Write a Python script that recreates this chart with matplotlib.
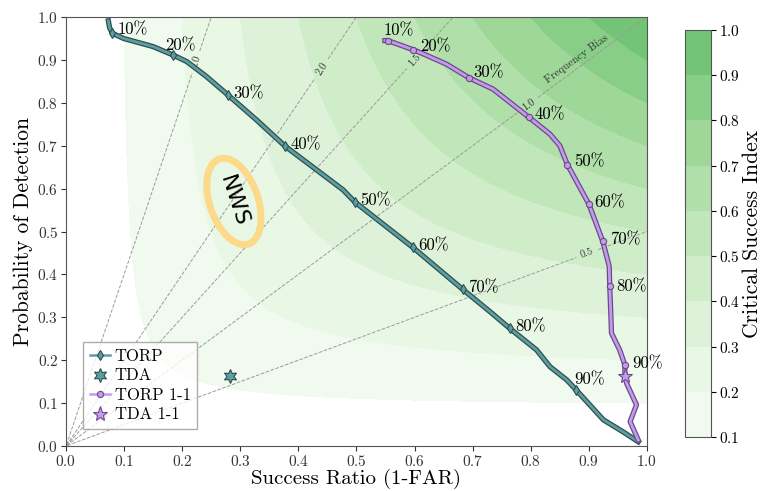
import numpy as np
import matplotlib
matplotlib.use("Agg")
import matplotlib.pyplot as plt
import matplotlib.patheffects as pe
from matplotlib.patches import Ellipse
from matplotlib.colors import ListedColormap, BoundaryNorm

plt.rcParams["font.family"] = "serif"
plt.rcParams["font.serif"] = ["cmr10"]
plt.rcParams["mathtext.fontset"] = "cm"
plt.rcParams["axes.formatter.use_mathtext"] = True
plt.rcParams["axes.unicode_minus"] = False

# --- data ---
torp_sr = [0.073, 0.075, 0.080, 0.099, 0.150, 0.185, 0.208, 0.242, 0.279, 0.328,
           0.377, 0.432, 0.477, 0.497, 0.597, 0.683, 0.730, 0.764, 0.810, 0.833,
           0.862, 0.878, 0.925, 0.959, 0.985]
torp_pod = [0.991, 0.975, 0.962, 0.950, 0.931, 0.911, 0.896, 0.861, 0.818, 0.760,
            0.699, 0.643, 0.597, 0.569, 0.463, 0.365, 0.313, 0.274, 0.224, 0.185,
            0.154, 0.131, 0.061, 0.033, 0.010]
torp_mark_sr = [0.080, 0.185, 0.279, 0.377, 0.497, 0.597, 0.683, 0.764, 0.878]
torp_mark_pod = [0.962, 0.911, 0.818, 0.699, 0.569, 0.463, 0.365, 0.274, 0.131]

torp11_sr = [0.549, 0.554, 0.597, 0.615, 0.655, 0.694, 0.735, 0.797, 0.833, 0.850,
             0.863, 0.900, 0.924, 0.935, 0.936, 0.939, 0.953, 0.962, 0.962, 0.965,
             0.982, 0.971, 0.985]
torp11_pod = [0.945, 0.945, 0.924, 0.914, 0.890, 0.858, 0.832, 0.766, 0.727, 0.700,
              0.656, 0.564, 0.477, 0.419, 0.372, 0.263, 0.224, 0.189, 0.163, 0.146,
              0.096, 0.057, 0.014]
torp11_mark_sr = [0.554, 0.597, 0.694, 0.797, 0.863, 0.900, 0.924, 0.936, 0.962]
torp11_mark_pod = [0.945, 0.924, 0.858, 0.766, 0.656, 0.564, 0.477, 0.372, 0.189]

pct_labels = ["10%", "20%", "30%", "40%", "50%", "60%", "70%", "80%", "90%"]

tda_sr, tda_pod = 0.282, 0.164
tda11_sr, tda11_pod = 0.962, 0.163

csi_levels = [0.1, 0.2, 0.3, 0.4, 0.5, 0.6, 0.7, 0.8, 0.9, 1.0]
bias_levels = [0.5, 1.0, 1.5, 2.0, 4.0]

# label offsets (points) for the percentage annotations
torp_off = [(4, 3), (-6, 7), (4, 1), (4, 1), (4, 1), (4, 1), (4, 1), (4, 1), (-1, 7)]
torp11_off = [(-3, 7), (5, 2), (3, 4), (4, 2), (5, 2), (4, 1), (5, 1), (5, 0), (5, 1)]

teal, teal_dark = "#5f9ea0", "#2c4f50"
purp, purp_dark = "#c39be8", "#6a4a8c"

fig = plt.figure(figsize=(7.69, 4.91), dpi=100)
ax = fig.add_axes([0.0858, 0.0916, 0.7555, 0.8738])
cax = fig.add_axes([0.8908, 0.110, 0.0338, 0.829])

# CSI background
sr = np.linspace(0.001, 1, 400)
pod = np.linspace(0.001, 1, 400)
SR, POD = np.meshgrid(sr, pod)
CSI = 1.0 / (1.0 / SR + 1.0 / POD - 1.0)
cmap = ListedColormap(plt.cm.Greens(np.linspace(0.04, 0.5, 9)))
norm = BoundaryNorm(csi_levels, cmap.N)
cf = ax.contourf(SR, POD, CSI, levels=csi_levels, cmap=cmap, norm=norm)

# frequency bias lines
BIAS = POD / SR
fb = ax.contour(SR, POD, BIAS, levels=bias_levels, colors="#9a9a9a",
                linestyles="dashed", linewidths=0.7)
ax.clabel(fb, fmt="%1.1f", fontsize=7.5, colors="#333333", inline=True,
          manual=[(0.897, 0.449), (0.797, 0.795), (0.60, 0.9), (0.44, 0.88), (0.224, 0.895)])
ax.text(0.879, 0.903, "Frequency Bias", fontsize=8, color="#333333",
        rotation=36, ha="center", va="center")

outline_t = [pe.Stroke(linewidth=3.8, foreground=teal_dark), pe.Normal()]
outline_p = [pe.Stroke(linewidth=3.8, foreground=purp_dark), pe.Normal()]

ax.plot(torp_sr, torp_pod, color=teal, lw=2.0, path_effects=outline_t, zorder=4)
ax.plot(torp_mark_sr, torp_mark_pod, ls="none", marker="d", ms=5.5, color=teal,
        mec=teal_dark, mew=0.8, zorder=5)
ax.plot([], [], color=teal, lw=1.8, marker="d", ms=5.5, mec=teal_dark, mew=0.8,
        label="TORP")
ax.plot(tda_sr, tda_pod, ls="none", marker=(6, 1, 0), ms=10, color=teal,
        mec=teal_dark, mew=0.8, zorder=6, label="TDA")

ax.plot(torp11_sr, torp11_pod, color=purp, lw=2.0, path_effects=outline_p, zorder=4)
ax.plot(torp11_mark_sr, torp11_mark_pod, ls="none", marker="o", ms=4.5, color=purp,
        mec=purp_dark, mew=0.8, zorder=5)
ax.plot([], [], color=purp, lw=1.8, marker="o", ms=4.5, mec=purp_dark, mew=0.8,
        label="TORP 1-1")
ax.plot(tda11_sr, tda11_pod, ls="none", marker="*", ms=11, color=purp,
        mec=purp_dark, mew=0.8, zorder=6, label="TDA 1-1")

for x, y, t, o in zip(torp_mark_sr, torp_mark_pod, pct_labels, torp_off):
    ax.annotate(t, (x, y), xytext=o, textcoords="offset points", fontsize=12,
                ha="left", va="center", zorder=7)
for x, y, t, o in zip(torp11_mark_sr, torp11_mark_pod, pct_labels, torp11_off):
    ax.annotate(t, (x, y), xytext=o, textcoords="offset points", fontsize=12,
                ha="left", va="center", zorder=7, annotation_clip=False)

# NWS callout
ax.add_patch(Ellipse((0.289, 0.57), width=0.085, height=0.205, angle=12,
                     fill=False, edgecolor="#fdd98a", lw=5, zorder=3))
ax.text(0.289, 0.57, "NWS", fontsize=16, family="DejaVu Sans", rotation=-72,
        ha="center", va="center", zorder=3)

ax.set_xlim(0, 1)
ax.set_ylim(0, 1)
ax.set_xticks(np.arange(0, 1.01, 0.1))
ax.set_yticks(np.arange(0, 1.01, 0.1))
ax.tick_params(labelsize=11, colors="#333333", direction="out", length=3.5, pad=2)
for s in ax.spines.values():
    s.set_color("#555555")
ax.set_xlabel("Success Ratio (1-FAR)", fontsize=15, labelpad=0)
ax.set_ylabel("Probability of Detection", fontsize=15.5, labelpad=3)

leg = ax.legend(loc="lower left", bbox_to_anchor=(0.015, 0.02), fontsize=12,
                fancybox=False, edgecolor="#999999", handlelength=1.2,
                handletextpad=0.3, borderpad=0.4, labelspacing=0.25)

cb = fig.colorbar(cf, cax=cax, ticks=csi_levels)
cb.set_label("Critical Success Index", fontsize=15.5, labelpad=2)
cb.ax.tick_params(labelsize=11, length=3.5, pad=2)
cb.outline.set_edgecolor("#555555")

fig.savefig("out.png", dpi=100)
